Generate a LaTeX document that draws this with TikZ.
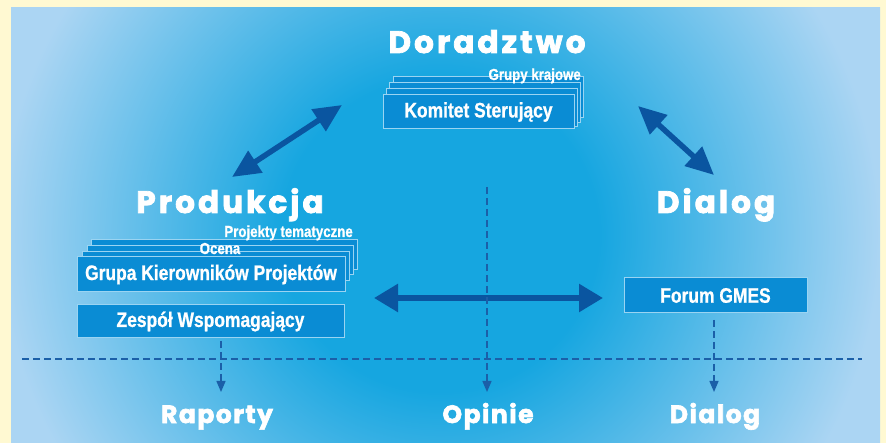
\documentclass[tikz,border=0pt]{standalone}
\usepackage{fontspec}
\usetikzlibrary{arrows.meta}
\newfontfamily\headfont{Poppins}[LetterSpace=10, FakeBold=2.5]
\newfontfamily\subfont{Poppins}[LetterSpace=6, FakeBold=2.5]
\newfontfamily\condfont{Liberation Sans}[FakeStretch=0.83, FakeBold=0.8]
\definecolor{cream}{HTML}{FFF9D2}
\definecolor{bgA}{HTML}{16A6E0}
\definecolor{bgB}{HTML}{ABD5F3}
\definecolor{boxfill}{HTML}{0A8CD4}
\definecolor{boxline}{HTML}{9AD4F2}
\definecolor{arrowblue}{HTML}{0A55A0}
\definecolor{dashblue}{HTML}{1B5FA8}
\pgfdeclareradialshading{bgshade}{\pgfpoint{0bp}{0bp}}{color(0bp)=(bgA); color(9bp)=(bgA); color(25bp)=(bgB); color(50bp)=(bgB)}
\tikzset{
  heading/.style={font=\headfont\bfseries\fontsize{31}{31}\selectfont, text=white, inner sep=0pt, anchor=base},
  subhead/.style={font=\subfont\bfseries\fontsize{25}{25}\selectfont, text=white, inner sep=0pt, anchor=base},
  boxlabel/.style={font=\condfont\bfseries\fontsize{21}{21}\selectfont, text=white},
  smalllabel/.style={font=\condfont\bfseries\fontsize{16}{16}\selectfont, text=white, inner sep=0pt},
  bluebox/.style={fill=boxfill, draw=boxline, line width=1pt, inner sep=0pt},
  bigarrow/.style={draw=arrowblue, line width=5.5pt, {Triangle[length=28pt,width=25pt]}-{Triangle[length=28pt,width=25pt]}},
  dashline/.style={draw=dashblue, line width=1.4pt, dash pattern=on 7pt off 4pt},
  dasharrow/.style={dashline, -{Triangle[length=11pt,width=9pt]}},
}
\begin{document}
\begin{tikzpicture}[x=1pt,y=-1pt]
\useasboundingbox (0,0) rectangle (886,443);
\fill[cream] (0,0) rectangle (886,443);
\begin{scope}
  \clip (11,8) rectangle (881,443);
  \shade[shading=bgshade] (0,-200) rectangle (880,670);
\end{scope}

% headings
\node[heading] (doradztwo) at (487,53) {Doradztwo};
\node[heading] (produkcja) at (230,213) {Produkcja};
\node[heading] (dialoghead) at (716,213) {Dialog};

% Komitet stack
\draw[bluebox] (393,77) rectangle (583,118);
\draw[bluebox] (389,83) rectangle (580,123);
\draw[bluebox] (386,89) rectangle (577,127);
\node[bluebox, boxlabel, minimum width=191pt, minimum height=34pt] (komitet) at (478.5,112) {Komitet Sterujący};
\node[smalllabel, anchor=base east] (grupy) at (581,80) {Grupy krajowe};

% Grupa stack
\draw[bluebox] (91,240) rectangle (357,270);
\draw[bluebox] (87,246) rectangle (353,275);
\draw[bluebox] (82,252) rectangle (349,281);
\node[smalllabel, anchor=base east] (projekty) at (353,237) {Projekty tematyczne};
\node[smalllabel, anchor=base] (ocena) at (220,254) {Ocena};
\node[bluebox, boxlabel, minimum width=268pt, minimum height=35pt] (grupa) at (211,274.5) {Grupa Kierowników Projektów};

\node[bluebox, boxlabel, minimum width=267pt, minimum height=33pt] (zespol) at (210.5,321.5) {Zespół Wspomagający};
\node[bluebox, boxlabel, minimum width=183pt, minimum height=35pt] (forum) at (715.5,295.5) {Forum GMES};

% big arrows
\coordinate (dp1) at (342,105);
\coordinate (dp2) at (232,177);
\coordinate (dd1) at (638,106);
\coordinate (dd2) at (714,175);
\coordinate (hl) at (374,298);
\coordinate (hr) at (603,298);
\draw[bigarrow] (dp2) -- (dp1);
\draw[bigarrow] (dd1) -- (dd2);
\draw[bigarrow, {Triangle[length=24pt,width=27pt]}-{Triangle[length=24pt,width=27pt]}] (hl) -- (hr);

% bottom labels
\node[subhead] (raporty) at (217,423) {Raporty};
\node[subhead] (opinie) at (488,423) {Opinie};
\node[subhead] (dialog) at (715,423) {Dialog};

% dashed lines
\coordinate (sepL) at (22,359);
\coordinate (sepR) at (862,359);
\draw[dashline] (sepL) -- (sepR);
\coordinate (r0) at (221,341);
\coordinate (r1) at (221,392);
\coordinate (o0) at (487,187);
\coordinate (o1) at (487,392);
\coordinate (d0) at (714,320);
\coordinate (d1) at (714,392);
\draw[dasharrow] (r0) -- (r1);
\draw[dasharrow] (o0) -- (o1);
\draw[dasharrow] (d0) -- (d1);
\end{tikzpicture}
\end{document}
